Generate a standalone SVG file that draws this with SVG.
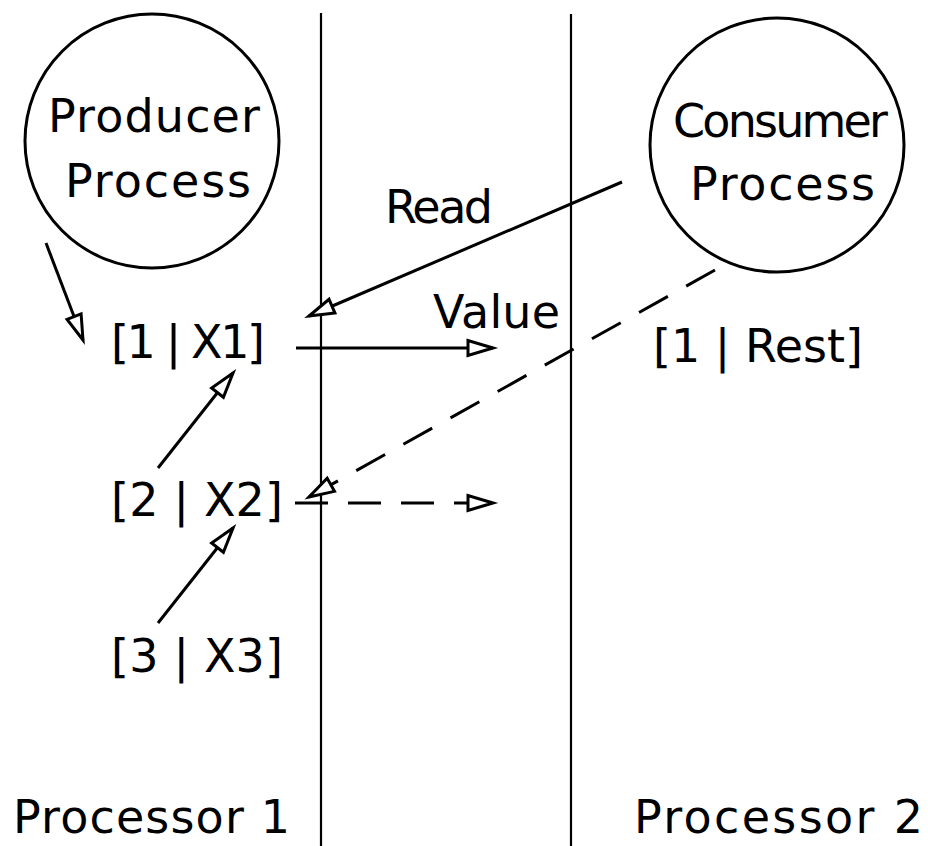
<svg xmlns="http://www.w3.org/2000/svg" width="928" height="846" viewBox="0 0 928 846">
  <style>
    .lbl { font-family: "DejaVu Sans", "Liberation Sans", sans-serif; font-size: 46px; fill: #000; }
    .node { fill: none; stroke: #000; stroke-width: 3; }
    .divider { stroke: #000; stroke-width: 2.2; }
    .edge { fill: none; stroke: #000; stroke-width: 3; }
    .dash { stroke-dasharray: 33 21; }
    .head { fill: #fff; stroke: #000; stroke-width: 3; stroke-dasharray: none; stroke-linejoin: miter; }
  </style>
  <defs>
    <marker id="open" markerUnits="userSpaceOnUse" viewBox="-30 -12 34 24" refX="0" refY="0" markerWidth="34" markerHeight="24" orient="auto" overflow="visible">
      <path class="head" d="M0,0 L-25,-7.5 L-25,7.5 Z"/>
    </marker>
  </defs>
  <rect width="928" height="846" fill="#fff"/>

  <!-- processor boundaries -->
  <g id="boundaries">
    <line class="divider" x1="321" y1="13" x2="321" y2="846"/>
    <line class="divider" x1="571" y1="14" x2="571" y2="846"/>
  </g>

  <g id="producer">
    <circle class="node" cx="152" cy="141" r="127"/>
    <text class="lbl" x="48" y="132" textLength="212" lengthAdjust="spacing">Producer</text>
    <text class="lbl" x="65" y="197" textLength="186" lengthAdjust="spacing">Process</text>
  </g>

  <g id="consumer">
    <circle class="node" cx="777" cy="145" r="127"/>
    <text class="lbl" x="673" y="137" textLength="215" lengthAdjust="spacing">Consumer</text>
    <text class="lbl" x="690" y="200" textLength="185" lengthAdjust="spacing">Process</text>
  </g>

  <g id="cell1">
    <text class="lbl" x="111" y="358" textLength="154" lengthAdjust="spacing">[1 | X1]</text>
  </g>
  <g id="cell2">
    <text class="lbl" x="111" y="516" textLength="172" lengthAdjust="spacing">[2 | X2]</text>
  </g>
  <g id="cell3">
    <text class="lbl" x="111" y="672" textLength="172" lengthAdjust="spacing">[3 | X3]</text>
  </g>
  <g id="rest">
    <text class="lbl" x="653" y="362" textLength="210" lengthAdjust="spacing">[1 | Rest]</text>
  </g>

  <g id="labels">
    <text class="lbl" x="385" y="223" textLength="108" lengthAdjust="spacing">Read</text>
    <text class="lbl" x="433" y="328" textLength="127" lengthAdjust="spacing">Value</text>
    <text class="lbl" x="13" y="833" textLength="277" lengthAdjust="spacing">Processor 1</text>
    <text class="lbl" x="634" y="833" textLength="289" lengthAdjust="spacing">Processor 2</text>
  </g>

  <g id="connectors">
    <line class="edge" x1="46" y1="243" x2="83" y2="340" marker-end="url(#open)"/>
    <line class="edge" x1="622" y1="182" x2="309" y2="316" marker-end="url(#open)"/>
    <line class="edge" x1="296" y1="348" x2="493" y2="348" marker-end="url(#open)"/>
    <line class="edge" x1="158" y1="468" x2="233" y2="373" marker-end="url(#open)"/>
    <line class="edge" x1="158" y1="623" x2="233" y2="528" marker-end="url(#open)"/>
    <line class="edge dash" x1="715" y1="270" x2="309" y2="497" marker-end="url(#open)"/>
    <line class="edge dash" style="stroke-dasharray: 33 20" x1="295" y1="503" x2="493" y2="503" marker-end="url(#open)"/>
  </g>
</svg>
